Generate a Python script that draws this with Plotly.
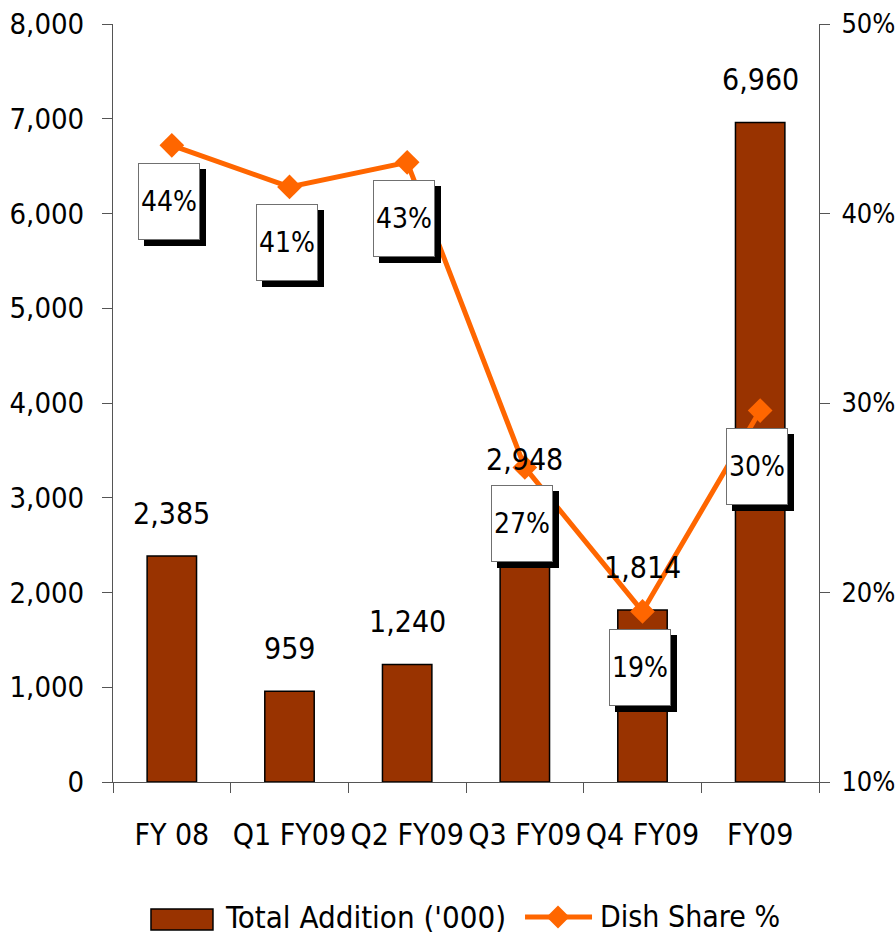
import plotly.graph_objects as go

# Data
categories = ["FY 08", "Q1 FY09", "Q2 FY09", "Q3 FY09", "Q4 FY09", "FY09"]
total_addition = [2385, 959, 1240, 2948, 1814, 6960]          # '000
dish_share = [0.436, 0.414, 0.427, 0.266, 0.190, 0.296]        # share of additions

BAR_COLOR = "#993300"
LINE_COLOR = "#FF6600"
FONT = "DejaVu Sans Condensed, Tahoma, DejaVu Sans, sans-serif"
AXIS_COLOR = "#555555"

fig = go.Figure()

fig.add_trace(go.Bar(
    x=categories, y=total_addition, name="Total Addition ('000)",
    marker=dict(color=BAR_COLOR, line=dict(color="#000000", width=1.5)),
    yaxis="y", showlegend=False,
))

fig.add_trace(go.Scatter(
    x=categories, y=dish_share, name="Dish Share %", mode="lines+markers",
    line=dict(color=LINE_COLOR, width=5),
    marker=dict(symbol="diamond", size=19, color=LINE_COLOR),
    yaxis="y2", showlegend=False,
))

annotations = []

# value labels above the bars
for c, v in zip(categories, total_addition):
    annotations.append(dict(
        x=c, y=v, xref="x", yref="y", text=f"{v:,}", showarrow=False,
        yanchor="middle", yshift=43, font=dict(size=30, color="#000000", family=FONT),
    ))

# boxed share labels with a drop shadow, below each marker
for c, s in zip(categories, dish_share):
    label = f"{s * 100:.0f}%"
    annotations.append(dict(
        x=c, y=s, xref="x", yref="y2", text=" ", showarrow=False,
        xshift=3, yshift=-62, width=60, height=75, borderpad=0, borderwidth=1,
        bgcolor="#000000", bordercolor="#000000",
        font=dict(size=28, color="#000000", family=FONT),
    ))
    annotations.append(dict(
        x=c, y=s, xref="x", yref="y2", text=label, showarrow=False,
        xshift=-3, yshift=-56, width=60, height=75, borderpad=0, borderwidth=1,
        bgcolor="#FFFFFF", bordercolor="#707070",
        font=dict(size=28, color="#000000", family=FONT),
    ))

# legend drawn by hand below the plot
annotations.append(dict(
    x=0.1554, y=-0.1781, xref="paper", yref="paper", text="Total Addition ('000)",
    showarrow=False, xanchor="left", yanchor="middle",
    font=dict(size=31, color="#000000", family=FONT),
))
annotations.append(dict(
    x=0.687, y=-0.1781, xref="paper", yref="paper", text="Dish Share %",
    showarrow=False, xanchor="left", yanchor="middle",
    font=dict(size=30, color="#000000", family=FONT),
))

shapes = [
    dict(type="rect", xref="paper", yref="paper", x0=0.0538, x1=0.1416, y0=-0.1675, y1=-0.1953,
         fillcolor=BAR_COLOR, line=dict(color="#000000", width=1.5)),
    dict(type="line", xref="paper", yref="paper", x0=0.5836, x1=0.6785, y0=-0.1781, y1=-0.1781,
         line=dict(color=LINE_COLOR, width=5)),
    dict(type="path", xref="paper", yref="paper",
         path="M 0.6140 -0.1781 L 0.6303 -0.1629 L 0.6466 -0.1781 L 0.6303 -0.1933 Z",
         fillcolor=LINE_COLOR, line=dict(color=LINE_COLOR, width=0)),
]

fig.update_layout(
    width=896, height=936,
    margin=dict(l=113, r=77, t=24, b=154),
    paper_bgcolor="#FFFFFF", plot_bgcolor="#FFFFFF",
    font=dict(family=FONT, size=30, color="#000000"),
    bargap=0.58,
    showlegend=False,
    xaxis=dict(
        showline=True, linecolor=AXIS_COLOR, linewidth=1,
        ticks="outside", tickson="boundaries", ticklen=10, tickcolor=AXIS_COLOR,
        tickfont=dict(size=30), showgrid=False, zeroline=False,
        ticklabelstandoff=26, tickangle=0, automargin=False,
    ),
    yaxis=dict(
        range=[0, 8000], dtick=1000, tickformat=",",
        showline=True, linecolor=AXIS_COLOR, linewidth=1,
        ticks="outside", ticklen=10, tickcolor=AXIS_COLOR,
        showgrid=False, zeroline=False, tickfont=dict(size=29),
        ticklabelstandoff=12, automargin=False,
    ),
    yaxis2=dict(
        range=[0.10, 0.50], dtick=0.1, tickformat=".0%",
        overlaying="y", side="right",
        showline=True, linecolor=AXIS_COLOR, linewidth=1,
        ticks="outside", ticklen=10, tickcolor=AXIS_COLOR,
        showgrid=False, zeroline=False, tickfont=dict(size=27),
        ticklabelstandoff=6, automargin=False,
    ),
    annotations=annotations,
    shapes=shapes,
)

fig.write_html("out.html")
